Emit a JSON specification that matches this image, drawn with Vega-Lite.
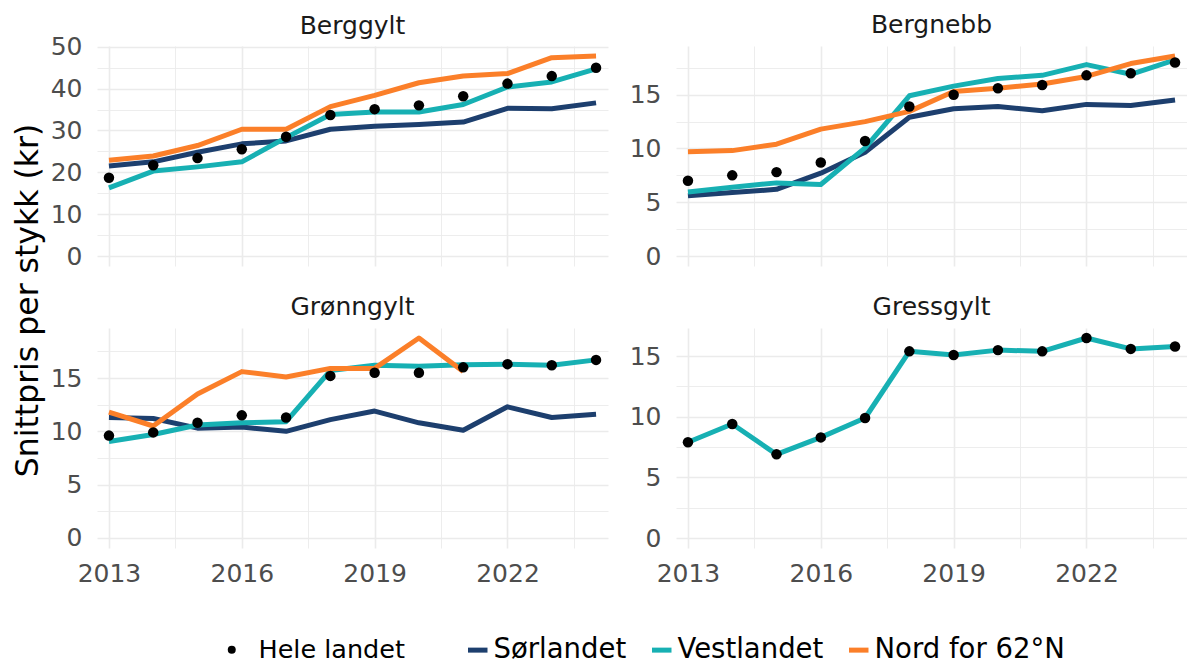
{
  "$schema": "https://vega.github.io/schema/vega-lite/v6.json",
  "padding": {"left": 12, "top": 13, "right": 0, "bottom": 0},
  "background": "white",
  "data": {"values": [
    {"art":"Berggylt","region":"Hele landet","aar":2013,"pris":18.7},
    {"art":"Berggylt","region":"Hele landet","aar":2014,"pris":21.7},
    {"art":"Berggylt","region":"Hele landet","aar":2015,"pris":23.4},
    {"art":"Berggylt","region":"Hele landet","aar":2016,"pris":25.5},
    {"art":"Berggylt","region":"Hele landet","aar":2017,"pris":28.5},
    {"art":"Berggylt","region":"Hele landet","aar":2018,"pris":33.7},
    {"art":"Berggylt","region":"Hele landet","aar":2019,"pris":35.1},
    {"art":"Berggylt","region":"Hele landet","aar":2020,"pris":36.0},
    {"art":"Berggylt","region":"Hele landet","aar":2021,"pris":38.2},
    {"art":"Berggylt","region":"Hele landet","aar":2022,"pris":41.2},
    {"art":"Berggylt","region":"Hele landet","aar":2023,"pris":43.0},
    {"art":"Berggylt","region":"Hele landet","aar":2024,"pris":45.0},
    {"art":"Berggylt","region":"Sørlandet","aar":2013,"pris":21.5},
    {"art":"Berggylt","region":"Sørlandet","aar":2014,"pris":22.5},
    {"art":"Berggylt","region":"Sørlandet","aar":2015,"pris":24.8},
    {"art":"Berggylt","region":"Sørlandet","aar":2016,"pris":26.8},
    {"art":"Berggylt","region":"Sørlandet","aar":2017,"pris":27.5},
    {"art":"Berggylt","region":"Sørlandet","aar":2018,"pris":30.3},
    {"art":"Berggylt","region":"Sørlandet","aar":2019,"pris":31.0},
    {"art":"Berggylt","region":"Sørlandet","aar":2020,"pris":31.4},
    {"art":"Berggylt","region":"Sørlandet","aar":2021,"pris":32.0},
    {"art":"Berggylt","region":"Sørlandet","aar":2022,"pris":35.3},
    {"art":"Berggylt","region":"Sørlandet","aar":2023,"pris":35.2},
    {"art":"Berggylt","region":"Sørlandet","aar":2024,"pris":36.6},
    {"art":"Berggylt","region":"Vestlandet","aar":2013,"pris":16.3},
    {"art":"Berggylt","region":"Vestlandet","aar":2014,"pris":20.3},
    {"art":"Berggylt","region":"Vestlandet","aar":2015,"pris":21.3},
    {"art":"Berggylt","region":"Vestlandet","aar":2016,"pris":22.5},
    {"art":"Berggylt","region":"Vestlandet","aar":2017,"pris":28.3},
    {"art":"Berggylt","region":"Vestlandet","aar":2018,"pris":33.8},
    {"art":"Berggylt","region":"Vestlandet","aar":2019,"pris":34.4},
    {"art":"Berggylt","region":"Vestlandet","aar":2020,"pris":34.4},
    {"art":"Berggylt","region":"Vestlandet","aar":2021,"pris":36.2},
    {"art":"Berggylt","region":"Vestlandet","aar":2022,"pris":40.4},
    {"art":"Berggylt","region":"Vestlandet","aar":2023,"pris":41.6},
    {"art":"Berggylt","region":"Vestlandet","aar":2024,"pris":44.7},
    {"art":"Berggylt","region":"Nord for 62°N","aar":2013,"pris":22.9},
    {"art":"Berggylt","region":"Nord for 62°N","aar":2014,"pris":23.9},
    {"art":"Berggylt","region":"Nord for 62°N","aar":2015,"pris":26.4},
    {"art":"Berggylt","region":"Nord for 62°N","aar":2016,"pris":30.3},
    {"art":"Berggylt","region":"Nord for 62°N","aar":2017,"pris":30.3},
    {"art":"Berggylt","region":"Nord for 62°N","aar":2018,"pris":35.7},
    {"art":"Berggylt","region":"Nord for 62°N","aar":2019,"pris":38.4},
    {"art":"Berggylt","region":"Nord for 62°N","aar":2020,"pris":41.4},
    {"art":"Berggylt","region":"Nord for 62°N","aar":2021,"pris":43.0},
    {"art":"Berggylt","region":"Nord for 62°N","aar":2022,"pris":43.6},
    {"art":"Berggylt","region":"Nord for 62°N","aar":2023,"pris":47.4},
    {"art":"Berggylt","region":"Nord for 62°N","aar":2024,"pris":47.8},
    {"art":"Bergnebb","region":"Hele landet","aar":2013,"pris":7.0},
    {"art":"Bergnebb","region":"Hele landet","aar":2014,"pris":7.5},
    {"art":"Bergnebb","region":"Hele landet","aar":2015,"pris":7.8},
    {"art":"Bergnebb","region":"Hele landet","aar":2016,"pris":8.7},
    {"art":"Bergnebb","region":"Hele landet","aar":2017,"pris":10.7},
    {"art":"Bergnebb","region":"Hele landet","aar":2018,"pris":13.9},
    {"art":"Bergnebb","region":"Hele landet","aar":2019,"pris":15.0},
    {"art":"Bergnebb","region":"Hele landet","aar":2020,"pris":15.6},
    {"art":"Bergnebb","region":"Hele landet","aar":2021,"pris":15.9},
    {"art":"Bergnebb","region":"Hele landet","aar":2022,"pris":16.8},
    {"art":"Bergnebb","region":"Hele landet","aar":2023,"pris":17.0},
    {"art":"Bergnebb","region":"Hele landet","aar":2024,"pris":18.0},
    {"art":"Bergnebb","region":"Sørlandet","aar":2013,"pris":5.6},
    {"art":"Bergnebb","region":"Sørlandet","aar":2014,"pris":5.9},
    {"art":"Bergnebb","region":"Sørlandet","aar":2015,"pris":6.2},
    {"art":"Bergnebb","region":"Sørlandet","aar":2016,"pris":7.7},
    {"art":"Bergnebb","region":"Sørlandet","aar":2017,"pris":9.65},
    {"art":"Bergnebb","region":"Sørlandet","aar":2018,"pris":12.9},
    {"art":"Bergnebb","region":"Sørlandet","aar":2019,"pris":13.7},
    {"art":"Bergnebb","region":"Sørlandet","aar":2020,"pris":13.9},
    {"art":"Bergnebb","region":"Sørlandet","aar":2021,"pris":13.5},
    {"art":"Bergnebb","region":"Sørlandet","aar":2022,"pris":14.1},
    {"art":"Bergnebb","region":"Sørlandet","aar":2023,"pris":14.0},
    {"art":"Bergnebb","region":"Sørlandet","aar":2024,"pris":14.5},
    {"art":"Bergnebb","region":"Vestlandet","aar":2013,"pris":5.95},
    {"art":"Bergnebb","region":"Vestlandet","aar":2014,"pris":6.4},
    {"art":"Bergnebb","region":"Vestlandet","aar":2015,"pris":6.8},
    {"art":"Bergnebb","region":"Vestlandet","aar":2016,"pris":6.65},
    {"art":"Bergnebb","region":"Vestlandet","aar":2017,"pris":10.05},
    {"art":"Bergnebb","region":"Vestlandet","aar":2018,"pris":14.9},
    {"art":"Bergnebb","region":"Vestlandet","aar":2019,"pris":15.8},
    {"art":"Bergnebb","region":"Vestlandet","aar":2020,"pris":16.5},
    {"art":"Bergnebb","region":"Vestlandet","aar":2021,"pris":16.8},
    {"art":"Bergnebb","region":"Vestlandet","aar":2022,"pris":17.8},
    {"art":"Bergnebb","region":"Vestlandet","aar":2023,"pris":16.9},
    {"art":"Bergnebb","region":"Vestlandet","aar":2024,"pris":18.25},
    {"art":"Bergnebb","region":"Nord for 62°N","aar":2013,"pris":9.7},
    {"art":"Bergnebb","region":"Nord for 62°N","aar":2014,"pris":9.8},
    {"art":"Bergnebb","region":"Nord for 62°N","aar":2015,"pris":10.4},
    {"art":"Bergnebb","region":"Nord for 62°N","aar":2016,"pris":11.8},
    {"art":"Bergnebb","region":"Nord for 62°N","aar":2017,"pris":12.5},
    {"art":"Bergnebb","region":"Nord for 62°N","aar":2018,"pris":13.45},
    {"art":"Bergnebb","region":"Nord for 62°N","aar":2019,"pris":15.3},
    {"art":"Bergnebb","region":"Nord for 62°N","aar":2020,"pris":15.6},
    {"art":"Bergnebb","region":"Nord for 62°N","aar":2021,"pris":16.0},
    {"art":"Bergnebb","region":"Nord for 62°N","aar":2022,"pris":16.7},
    {"art":"Bergnebb","region":"Nord for 62°N","aar":2023,"pris":17.9},
    {"art":"Bergnebb","region":"Nord for 62°N","aar":2024,"pris":18.6},
    {"art":"Grønngylt","region":"Hele landet","aar":2013,"pris":9.6},
    {"art":"Grønngylt","region":"Hele landet","aar":2014,"pris":9.9},
    {"art":"Grønngylt","region":"Hele landet","aar":2015,"pris":10.8},
    {"art":"Grønngylt","region":"Hele landet","aar":2016,"pris":11.5},
    {"art":"Grønngylt","region":"Hele landet","aar":2017,"pris":11.3},
    {"art":"Grønngylt","region":"Hele landet","aar":2018,"pris":15.2},
    {"art":"Grønngylt","region":"Hele landet","aar":2019,"pris":15.5},
    {"art":"Grønngylt","region":"Hele landet","aar":2020,"pris":15.5},
    {"art":"Grønngylt","region":"Hele landet","aar":2021,"pris":16.0},
    {"art":"Grønngylt","region":"Hele landet","aar":2022,"pris":16.3},
    {"art":"Grønngylt","region":"Hele landet","aar":2023,"pris":16.2},
    {"art":"Grønngylt","region":"Hele landet","aar":2024,"pris":16.7},
    {"art":"Grønngylt","region":"Sørlandet","aar":2013,"pris":11.3},
    {"art":"Grønngylt","region":"Sørlandet","aar":2014,"pris":11.2},
    {"art":"Grønngylt","region":"Sørlandet","aar":2015,"pris":10.3},
    {"art":"Grønngylt","region":"Sørlandet","aar":2016,"pris":10.4},
    {"art":"Grønngylt","region":"Sørlandet","aar":2017,"pris":10.0},
    {"art":"Grønngylt","region":"Sørlandet","aar":2018,"pris":11.1},
    {"art":"Grønngylt","region":"Sørlandet","aar":2019,"pris":11.9},
    {"art":"Grønngylt","region":"Sørlandet","aar":2020,"pris":10.8},
    {"art":"Grønngylt","region":"Sørlandet","aar":2021,"pris":10.1},
    {"art":"Grønngylt","region":"Sørlandet","aar":2022,"pris":12.3},
    {"art":"Grønngylt","region":"Sørlandet","aar":2023,"pris":11.3},
    {"art":"Grønngylt","region":"Sørlandet","aar":2024,"pris":11.6},
    {"art":"Grønngylt","region":"Vestlandet","aar":2013,"pris":9.05},
    {"art":"Grønngylt","region":"Vestlandet","aar":2014,"pris":9.7},
    {"art":"Grønngylt","region":"Vestlandet","aar":2015,"pris":10.6},
    {"art":"Grønngylt","region":"Vestlandet","aar":2016,"pris":10.8},
    {"art":"Grønngylt","region":"Vestlandet","aar":2017,"pris":10.9},
    {"art":"Grønngylt","region":"Vestlandet","aar":2018,"pris":15.7},
    {"art":"Grønngylt","region":"Vestlandet","aar":2019,"pris":16.2},
    {"art":"Grønngylt","region":"Vestlandet","aar":2020,"pris":16.1},
    {"art":"Grønngylt","region":"Vestlandet","aar":2021,"pris":16.25},
    {"art":"Grønngylt","region":"Vestlandet","aar":2022,"pris":16.3},
    {"art":"Grønngylt","region":"Vestlandet","aar":2023,"pris":16.2},
    {"art":"Grønngylt","region":"Vestlandet","aar":2024,"pris":16.7},
    {"art":"Grønngylt","region":"Nord for 62°N","aar":2013,"pris":11.8},
    {"art":"Grønngylt","region":"Nord for 62°N","aar":2014,"pris":10.5},
    {"art":"Grønngylt","region":"Nord for 62°N","aar":2015,"pris":13.5},
    {"art":"Grønngylt","region":"Nord for 62°N","aar":2016,"pris":15.6},
    {"art":"Grønngylt","region":"Nord for 62°N","aar":2017,"pris":15.1},
    {"art":"Grønngylt","region":"Nord for 62°N","aar":2018,"pris":15.9},
    {"art":"Grønngylt","region":"Nord for 62°N","aar":2019,"pris":15.9},
    {"art":"Grønngylt","region":"Nord for 62°N","aar":2020,"pris":18.75},
    {"art":"Grønngylt","region":"Nord for 62°N","aar":2021,"pris":15.6},
    {"art":"Gressgylt","region":"Hele landet","aar":2013,"pris":7.9},
    {"art":"Gressgylt","region":"Hele landet","aar":2014,"pris":9.4},
    {"art":"Gressgylt","region":"Hele landet","aar":2015,"pris":6.9},
    {"art":"Gressgylt","region":"Hele landet","aar":2016,"pris":8.3},
    {"art":"Gressgylt","region":"Hele landet","aar":2017,"pris":9.9},
    {"art":"Gressgylt","region":"Hele landet","aar":2018,"pris":15.4},
    {"art":"Gressgylt","region":"Hele landet","aar":2019,"pris":15.1},
    {"art":"Gressgylt","region":"Hele landet","aar":2020,"pris":15.5},
    {"art":"Gressgylt","region":"Hele landet","aar":2021,"pris":15.4},
    {"art":"Gressgylt","region":"Hele landet","aar":2022,"pris":16.5},
    {"art":"Gressgylt","region":"Hele landet","aar":2023,"pris":15.6},
    {"art":"Gressgylt","region":"Hele landet","aar":2024,"pris":15.8},
    {"art":"Gressgylt","region":"Vestlandet","aar":2013,"pris":7.9},
    {"art":"Gressgylt","region":"Vestlandet","aar":2014,"pris":9.4},
    {"art":"Gressgylt","region":"Vestlandet","aar":2015,"pris":6.9},
    {"art":"Gressgylt","region":"Vestlandet","aar":2016,"pris":8.3},
    {"art":"Gressgylt","region":"Vestlandet","aar":2017,"pris":9.9},
    {"art":"Gressgylt","region":"Vestlandet","aar":2018,"pris":15.4},
    {"art":"Gressgylt","region":"Vestlandet","aar":2019,"pris":15.1},
    {"art":"Gressgylt","region":"Vestlandet","aar":2020,"pris":15.5},
    {"art":"Gressgylt","region":"Vestlandet","aar":2021,"pris":15.4},
    {"art":"Gressgylt","region":"Vestlandet","aar":2022,"pris":16.5},
    {"art":"Gressgylt","region":"Vestlandet","aar":2023,"pris":15.6},
    {"art":"Gressgylt","region":"Vestlandet","aar":2024,"pris":15.8}
  ]},
  "columns": 2,
  "spacing": {"row": 62, "column": 68},
  "bounds": "flush",
  "concat": [
    {
      "width": 511, "height": 220,
      "title": {"text": "Berggylt", "offset": -4},
      "transform": [{"filter": "datum.art === 'Berggylt'"}],
      "layer": [
        {
          "transform": [{"filter": "datum.region !== 'Hele landet'"}],
          "mark": {"type": "line", "strokeWidth": 5, "strokeJoin": "round"},
          "encoding": {
            "x": {"field": "aar", "type": "quantitative", "scale": {"domain": [2012.73, 2024.27], "nice": false, "zero": false},
                  "axis": {"values": [2013, 2016, 2019, 2022], "labels": false, "grid": true, "gridWidth": 1.6, "title": null}},
            "y": {"field": "pris", "type": "quantitative", "scale": {"domain": [-2.39, 50.19], "nice": false, "zero": false},
                  "axis": {"values": [0, 10, 20, 30, 40, 50], "labelPadding": 15, "grid": true, "gridWidth": 1.6, "title": "Snittpris per stykk (kr)", "titleY": 254, "titleX": -52.5, "titleFontSize": 31.5, "titleFontWeight": "normal", "titleColor": "black", "titleFont": "DejaVu Sans"}},
            "color": {"field": "region", "type": "nominal", "scale": {"domain": ["Sørlandet", "Vestlandet", "Nord for 62°N"], "range": ["#1D3F6E", "#17B0B3", "#FB7F29"]},
                      "legend": {"title": null, "orient": "none", "legendX": 367, "legendY": 590, "direction": "horizontal", "symbolType": "stroke", "symbolSize": 380, "symbolStrokeWidth": 5, "labelOffset": 2, "labelFontSize": 27.5, "labelLimit": 400, "labelColor": "black", "labelFont": "DejaVu Sans", "columnPadding": 15, "padding": 0}}
          }
        },
        {
          "transform": [{"filter": "datum.region === 'Hele landet'"}],
          "mark": {"type": "point", "filled": true, "color": "black", "size": 110, "opacity": 1},
          "encoding": {
            "x": {"field": "aar", "type": "quantitative", "axis": {"values": [2014.5, 2017.5, 2020.5, 2023.5], "labels": false, "grid": true, "gridWidth": 0.9, "title": null, "orient": "bottom"}},
            "y": {"field": "pris", "type": "quantitative", "axis": {"values": [5, 15, 25, 35, 45], "labels": false, "grid": true, "gridWidth": 0.9, "title": null, "orient": "left"}},
            "shape": {"field": "region", "type": "nominal", "scale": {"domain": ["Hele landet"], "range": ["circle"]},
                      "legend": {"title": null, "orient": "none", "legendX": 122, "legendY": 591, "direction": "horizontal", "symbolSize": 64, "symbolFillColor": "black", "symbolStrokeColor": "black", "symbolStrokeWidth": 0, "labelOffset": 14, "labelFontSize": 25.5, "labelLimit": 400, "labelColor": "black", "labelFont": "DejaVu Sans", "padding": 0}}
          }
        }
      ],
      "resolve": {"axis": {"x": "independent", "y": "independent"}}
    },
    {
      "width": 511, "height": 220,
      "title": {"text": "Bergnebb"},
      "transform": [{"filter": "datum.art === 'Bergnebb'"}],
      "layer": [
        {
          "transform": [{"filter": "datum.region !== 'Hele landet'"}],
          "mark": {"type": "line", "strokeWidth": 5, "strokeJoin": "round"},
          "encoding": {
            "x": {"field": "aar", "type": "quantitative", "scale": {"domain": [2012.73, 2024.27], "nice": false, "zero": false},
                  "axis": {"values": [2013, 2016, 2019, 2022], "labels": false, "grid": true, "gridWidth": 1.6, "title": null}},
            "y": {"field": "pris", "type": "quantitative", "scale": {"domain": [-0.93, 19.53], "nice": false, "zero": false},
                  "axis": {"values": [0, 5, 10, 15], "labelPadding": 15, "grid": true, "gridWidth": 1.6, "title": null}},
            "color": {"field": "region", "type": "nominal", "scale": {"domain": ["Sørlandet", "Vestlandet", "Nord for 62°N"], "range": ["#1D3F6E", "#17B0B3", "#FB7F29"]},
                      "legend": {"title": null, "orient": "none", "legendX": 367, "legendY": 590, "direction": "horizontal", "symbolType": "stroke", "symbolSize": 380, "symbolStrokeWidth": 5, "labelOffset": 2, "labelFontSize": 27.5, "labelLimit": 400, "labelColor": "black", "labelFont": "DejaVu Sans", "columnPadding": 15, "padding": 0}}
          }
        },
        {
          "transform": [{"filter": "datum.region === 'Hele landet'"}],
          "mark": {"type": "point", "filled": true, "color": "black", "size": 110, "opacity": 1},
          "encoding": {
            "x": {"field": "aar", "type": "quantitative", "axis": {"values": [2014.5, 2017.5, 2020.5, 2023.5], "labels": false, "grid": true, "gridWidth": 0.9, "title": null, "orient": "bottom"}},
            "y": {"field": "pris", "type": "quantitative", "axis": {"values": [2.5, 7.5, 12.5, 17.5], "labels": false, "grid": true, "gridWidth": 0.9, "title": null, "orient": "left"}},
            "shape": {"field": "region", "type": "nominal", "scale": {"domain": ["Hele landet"], "range": ["circle"]},
                      "legend": {"title": null, "orient": "none", "legendX": 122, "legendY": 591, "direction": "horizontal", "symbolSize": 64, "symbolFillColor": "black", "symbolStrokeColor": "black", "symbolStrokeWidth": 0, "labelOffset": 14, "labelFontSize": 25.5, "labelLimit": 400, "labelColor": "black", "labelFont": "DejaVu Sans", "padding": 0}}
          }
        }
      ],
      "resolve": {"axis": {"x": "independent", "y": "independent"}}
    },
    {
      "width": 511, "height": 220,
      "title": {"text": "Grønngylt"},
      "transform": [{"filter": "datum.art === 'Grønngylt'"}],
      "layer": [
        {
          "transform": [{"filter": "datum.region !== 'Hele landet'"}],
          "mark": {"type": "line", "strokeWidth": 5, "strokeJoin": "round"},
          "encoding": {
            "x": {"field": "aar", "type": "quantitative", "scale": {"domain": [2012.73, 2024.27], "nice": false, "zero": false},
                  "axis": {"values": [2013, 2016, 2019, 2022], "format": "d", "labelPadding": 13, "labelFlush": false, "grid": true, "gridWidth": 1.6, "title": null}},
            "y": {"field": "pris", "type": "quantitative", "scale": {"domain": [-0.94, 19.69], "nice": false, "zero": false},
                  "axis": {"values": [0, 5, 10, 15], "labelPadding": 15, "grid": true, "gridWidth": 1.6, "title": null}},
            "color": {"field": "region", "type": "nominal", "scale": {"domain": ["Sørlandet", "Vestlandet", "Nord for 62°N"], "range": ["#1D3F6E", "#17B0B3", "#FB7F29"]},
                      "legend": {"title": null, "orient": "none", "legendX": 367, "legendY": 590, "direction": "horizontal", "symbolType": "stroke", "symbolSize": 380, "symbolStrokeWidth": 5, "labelOffset": 2, "labelFontSize": 27.5, "labelLimit": 400, "labelColor": "black", "labelFont": "DejaVu Sans", "columnPadding": 15, "padding": 0}}
          }
        },
        {
          "transform": [{"filter": "datum.region === 'Hele landet'"}],
          "mark": {"type": "point", "filled": true, "color": "black", "size": 110, "opacity": 1},
          "encoding": {
            "x": {"field": "aar", "type": "quantitative", "axis": {"values": [2014.5, 2017.5, 2020.5, 2023.5], "labels": false, "grid": true, "gridWidth": 0.9, "title": null, "orient": "bottom"}},
            "y": {"field": "pris", "type": "quantitative", "axis": {"values": [2.5, 7.5, 12.5, 17.5], "labels": false, "grid": true, "gridWidth": 0.9, "title": null, "orient": "left"}},
            "shape": {"field": "region", "type": "nominal", "scale": {"domain": ["Hele landet"], "range": ["circle"]},
                      "legend": {"title": null, "orient": "none", "legendX": 122, "legendY": 591, "direction": "horizontal", "symbolSize": 64, "symbolFillColor": "black", "symbolStrokeColor": "black", "symbolStrokeWidth": 0, "labelOffset": 14, "labelFontSize": 25.5, "labelLimit": 400, "labelColor": "black", "labelFont": "DejaVu Sans", "padding": 0}}
          }
        }
      ],
      "resolve": {"axis": {"x": "independent", "y": "independent"}}
    },
    {
      "width": 511, "height": 220,
      "title": {"text": "Gressgylt"},
      "transform": [{"filter": "datum.art === 'Gressgylt'"}],
      "layer": [
        {
          "transform": [{"filter": "datum.region !== 'Hele landet'"}],
          "mark": {"type": "line", "strokeWidth": 5, "strokeJoin": "round"},
          "encoding": {
            "x": {"field": "aar", "type": "quantitative", "scale": {"domain": [2012.73, 2024.27], "nice": false, "zero": false},
                  "axis": {"values": [2013, 2016, 2019, 2022], "format": "d", "labelPadding": 13, "labelFlush": false, "grid": true, "gridWidth": 1.6, "title": null}},
            "y": {"field": "pris", "type": "quantitative", "scale": {"domain": [-0.825, 17.325], "nice": false, "zero": false},
                  "axis": {"values": [0, 5, 10, 15], "labelPadding": 15, "grid": true, "gridWidth": 1.6, "title": null}},
            "color": {"field": "region", "type": "nominal", "scale": {"domain": ["Sørlandet", "Vestlandet", "Nord for 62°N"], "range": ["#1D3F6E", "#17B0B3", "#FB7F29"]},
                      "legend": {"title": null, "orient": "none", "legendX": 367, "legendY": 590, "direction": "horizontal", "symbolType": "stroke", "symbolSize": 380, "symbolStrokeWidth": 5, "labelOffset": 2, "labelFontSize": 27.5, "labelLimit": 400, "labelColor": "black", "labelFont": "DejaVu Sans", "columnPadding": 15, "padding": 0}}
          }
        },
        {
          "transform": [{"filter": "datum.region === 'Hele landet'"}],
          "mark": {"type": "point", "filled": true, "color": "black", "size": 110, "opacity": 1},
          "encoding": {
            "x": {"field": "aar", "type": "quantitative", "axis": {"values": [2014.5, 2017.5, 2020.5, 2023.5], "labels": false, "grid": true, "gridWidth": 0.9, "title": null, "orient": "bottom"}},
            "y": {"field": "pris", "type": "quantitative", "axis": {"values": [2.5, 7.5, 12.5, 17.5], "labels": false, "grid": true, "gridWidth": 0.9, "title": null, "orient": "left"}},
            "shape": {"field": "region", "type": "nominal", "scale": {"domain": ["Hele landet"], "range": ["circle"]},
                      "legend": {"title": null, "orient": "none", "legendX": 122, "legendY": 591, "direction": "horizontal", "symbolSize": 64, "symbolFillColor": "black", "symbolStrokeColor": "black", "symbolStrokeWidth": 0, "labelOffset": 14, "labelFontSize": 25.5, "labelLimit": 400, "labelColor": "black", "labelFont": "DejaVu Sans", "padding": 0}}
          }
        }
      ],
      "resolve": {"axis": {"x": "independent", "y": "independent"}}
    }
  ],
  "config": {
    "view": {"stroke": null},
    "font": "DejaVu Sans",
    "axis": {"gridColor": "#EBEBEB", "labelFont": "DejaVu Sans", "labelFontSize": 25, "labelColor": "#4D4D4D", "ticks": false, "tickSize": 0, "domain": false, "labelFlush": false},
    "title": {"fontSize": 25, "fontWeight": "normal", "color": "#1A1A1A", "offset": 8, "font": "DejaVu Sans", "anchor": "middle", "frame": "group"},
    "legend": {"padding": 0}
  }
}
